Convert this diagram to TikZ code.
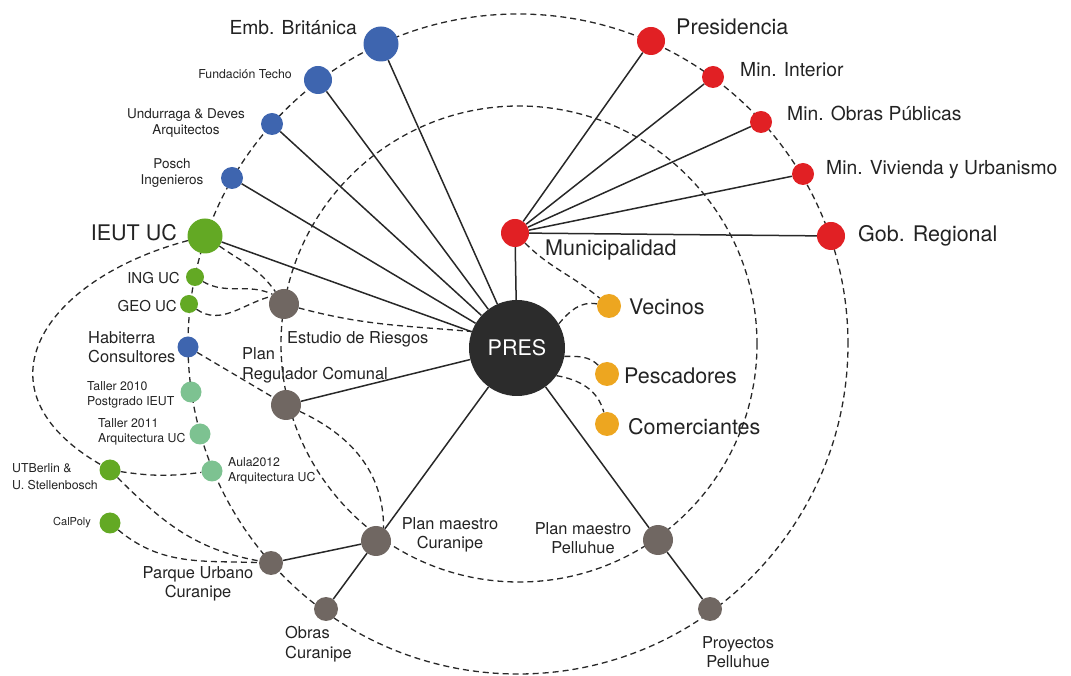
\documentclass[tikz,border=0pt]{standalone}
\usepackage{fontspec}
\setmainfont{TeX Gyre Heros}
\definecolor{embBlue}{RGB}{62,101,175}
\definecolor{govRed}{RGB}{225,32,36}
\definecolor{ucGreen}{RGB}{99,169,36}
\definecolor{tallerGreen}{RGB}{125,194,145}
\definecolor{planGray}{RGB}{112,103,98}
\definecolor{vecOrange}{RGB}{237,166,32}
\definecolor{presDark}{RGB}{44,44,44}
\definecolor{lineGray}{RGB}{40,40,40}
\definecolor{txtGray}{RGB}{35,35,35}
\begin{document}
\begin{tikzpicture}[x=1pt, y=1pt,
        dot/.style={circle, inner sep=0pt, minimum size=#1pt},
        lbl/.style={inner sep=0pt, text=txtGray},
        link/.style={draw=lineGray, line width=1.5pt},
        tie/.style={draw=lineGray, line width=1.3pt, dash pattern=on 6pt off 4pt},
        fbig/.style={font=\fontsize{21.5}{25}\selectfont},
        fmed/.style={font=\fontsize{19.3}{23}\selectfont},
        fmid/.style={font=\fontsize{16.4}{19.5}\selectfont},
        fuc/.style={font=\fontsize{15}{18}\selectfont},
        fsm/.style={font=\fontsize{13.5}{16}\selectfont},
        fxs/.style={font=\fontsize{12.3}{15.5}\selectfont}]
        \useasboundingbox (0,0) rectangle (1071,675);
        \draw[tie] (518,331) circle (330pt);
        \draw[tie] (519,331) circle (238pt);

        \node[dot=96, fill=presDark, text=white, fbig] (pres) at (517,327) {PRES};
        \node[dot=28, fill=govRed] (muni) at (515,442) {};
        \node[dot=28, fill=govRed] (presi) at (651,634) {};
        \node[dot=22, fill=govRed] (minint) at (713,598) {};
        \node[dot=22, fill=govRed] (minop) at (761,553) {};
        \node[dot=22, fill=govRed] (minviv) at (803,501) {};
        \node[dot=28, fill=govRed] (gob) at (831,439) {};
        \node[dot=24, fill=vecOrange] (vec) at (609,369) {};
        \node[dot=24, fill=vecOrange] (pes) at (607,301) {};
        \node[dot=24, fill=vecOrange] (com) at (607,251) {};
        \node[dot=35, fill=embBlue] (emb) at (381,631) {};
        \node[dot=28, fill=embBlue] (techo) at (318,595) {};
        \node[dot=22, fill=embBlue] (undu) at (272,551) {};
        \node[dot=22, fill=embBlue] (posch) at (232,497) {};
        \node[dot=35, fill=ucGreen] (ieut) at (205,439) {};
        \node[dot=18, fill=ucGreen] (ing) at (195,398) {};
        \node[dot=18, fill=ucGreen] (geo) at (189,371) {};
        \node[dot=21, fill=embBlue] (habi) at (188,328) {};
        \node[dot=21, fill=tallerGreen] (tal10) at (191,283) {};
        \node[dot=21, fill=tallerGreen] (tal11) at (200,241) {};
        \node[dot=21, fill=tallerGreen] (aula) at (212,204) {};
        \node[dot=21, fill=ucGreen] (utb) at (110,205) {};
        \node[dot=21, fill=ucGreen] (cal) at (110,152) {};
        \node[dot=24, fill=planGray] (parque) at (271,112) {};
        \node[dot=24, fill=planGray] (obras) at (326,66) {};
        \node[dot=30, fill=planGray] (pmc) at (376,134) {};
        \node[dot=30, fill=planGray] (pmp) at (658,135) {};
        \node[dot=24, fill=planGray] (proy) at (710,66) {};
        \node[dot=30, fill=planGray] (prc) at (286,270) {};
        \node[dot=30, fill=planGray] (er) at (284,371) {};

        \node[lbl, fmed, anchor=east] (emb-l) at (357,647) {Emb. Británica};
        \node[lbl, fxs, anchor=east] (techo-l) at (292,601) {Fundación Techo};
        \node[lbl, fsm, align=center] (undu-l) at (186,552) {Undurraga \& Deves\\Arquitectos};
        \node[lbl, fsm, align=center] (posch-l) at (172,502) {Posch\\Ingenieros};
        \node[lbl, fbig, anchor=east] (ieut-l) at (177,442) {IEUT UC};
        \node[lbl, fuc, anchor=east] (ing-l) at (180,397) {ING UC};
        \node[lbl, fuc, anchor=east] (geo-l) at (177,369) {GEO UC};
        \node[lbl, fmid, align=left, anchor=west] (habi-l) at (88,328) {Habiterra\\Consultores};
        \node[lbl, fxs, align=left, anchor=west] (tal10-l) at (87,280) {Taller 2010\\Postgrado IEUT};
        \node[lbl, fxs, align=left, anchor=west] (tal11-l) at (98,243) {Taller 2011\\Arquitectura UC};
        \node[lbl, fxs, align=left, anchor=west] (aula-l) at (228,204) {Aula2012\\Arquitectura UC};
        \node[lbl, font=\fontsize{12.3}{17}\selectfont, align=left, anchor=west] (utb-l) at (12,198) {UTBerlin \&\\U. Stellenbosch};
        \node[lbl, font=\fontsize{11}{13}\selectfont, anchor=east] (cal-l) at (91,152) {CalPoly};
        \node[lbl, fmid, align=center] (parque-l) at (198,91) {Parque Urbano\\Curanipe};
        \node[lbl, fmid, align=left, anchor=west] (obras-l) at (285,31) {Obras\\Curanipe};
        \node[lbl, fmid, align=center] (pmc-l) at (450,140) {Plan maestro\\Curanipe};
        \node[lbl, fmid, align=center] (pmp-l) at (583,137) {Plan maestro\\Pelluhue};
        \node[lbl, fmid, align=center] (proy-l) at (738,23) {Proyectos\\Pelluhue};
        \node[lbl, font=\fontsize{16.4}{20}\selectfont, align=left, anchor=west] (prc-l) at (242,310) {Plan\\Regulador Comunal};
        \node[lbl, fmid, anchor=west] (er-l) at (287,336) {Estudio de Riesgos};
        \node[lbl, fbig, anchor=west] (muni-l) at (545,425) {Municipalidad};
        \node[lbl, fbig, anchor=west] (presi-l) at (676,648) {Presidencia};
        \node[lbl, fmed, anchor=west] (minint-l) at (740,605) {Min. Interior};
        \node[lbl, fmed, anchor=west] (minop-l) at (787,562) {Min. Obras Públicas};
        \node[lbl, fmed, anchor=west] (minviv-l) at (826,505) {Min. Vivienda y Urbanismo};
        \node[lbl, fbig, anchor=west] (gob-l) at (858,439) {Gob. Regional};
        \node[lbl, fbig, anchor=west] (vec-l) at (629,368) {Vecinos};
        \node[lbl, fbig, anchor=west] (pes-l) at (624,299) {Pescadores};
        \node[lbl, fbig, anchor=west] (com-l) at (628,248) {Comerciantes};

        \draw[link] (pres) -- (emb);
        \draw[link] (pres) -- (techo);
        \draw[link] (pres) -- (undu);
        \draw[link] (pres) -- (posch);
        \draw[link] (pres) -- (ieut);
        \draw[link] (pres) -- (muni);
        \draw[link] (pres) -- (prc);
        \draw[link] (pres) -- (pmc);
        \draw[link] (pres) -- (pmp);
        \draw[link] (muni) -- (presi);
        \draw[link] (muni) -- (minint);
        \draw[link] (muni) -- (minop);
        \draw[link] (muni) -- (minviv);
        \draw[link] (muni) -- (gob);
        \draw[link] (pmc) -- (parque);
        \draw[link] (pmc) -- (obras);
        \draw[link] (pmp) -- (proy);

        \draw[tie] (ieut) to[out=-35, in=125] (er);
        \draw[tie] (ing) to[out=-30, in=155] (er.140);
        \draw[tie] (geo) to[out=-35, in=195] (er.150);
        \draw[tie] (er) to[out=-15, in=175] (pres.160);
        \draw[tie] (habi) -- (prc);
        \draw[tie] (prc) to[out=-25, in=90] (pmc.60);
        \draw[tie] (ieut) to[out=195, in=150, looseness=1.6] (utb);
        \draw[tie] (utb) to[bend right=8] (aula);
        \draw[tie] (utb) to[out=-45, in=170] (parque);
        \draw[tie] (cal) to[out=-40, in=178] (parque);
        \draw[tie] (pres.30) to[out=50, in=170] (vec);
        \draw[tie] (muni) to[out=-45, in=140] (vec);
        \draw[tie] (pres.-10) to[out=0, in=135] (pes);
        \draw[tie] (pres.-35) to[out=-10, in=105] (com);
    \end{tikzpicture}
\end{document}
